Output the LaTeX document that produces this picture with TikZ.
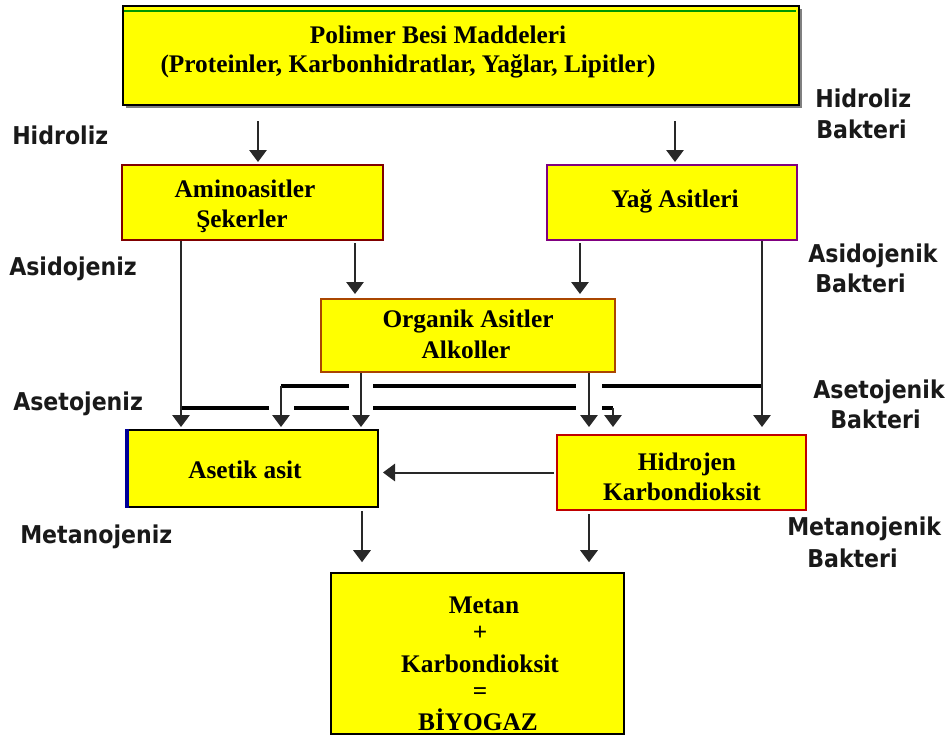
\documentclass[tikz,border=0pt]{standalone}
\usepackage{fontspec}
\usetikzlibrary{arrows.meta}
\newfontfamily\boxfont{Liberation Serif}
\newfontfamily\labfont[FakeStretch=0.9]{DejaVu Sans}
\definecolor{boxyellow}{RGB}{255,255,0}
\definecolor{aminoline}{RGB}{128,0,0}
\definecolor{yagline}{RGB}{128,0,128}
\definecolor{orgline}{RGB}{170,70,0}
\definecolor{hidline}{RGB}{192,0,0}
\definecolor{asetblue}{RGB}{0,0,150}
\definecolor{topgreen}{RGB}{0,150,0}
\definecolor{arrgray}{RGB}{40,40,40}
\begin{document}
\begin{tikzpicture}[x=0.75pt,y=-0.75pt,
  box/.style={draw, fill=boxyellow, inner sep=0pt, line width=1.5pt},
  btext/.style={font={\boxfont\bfseries\fontsize{19pt}{21pt}\selectfont}, anchor=base, inner sep=0pt, text=black},
  ltext/.style={font={\labfont\bfseries\fontsize{18.4pt}{20pt}\selectfont}, anchor=base west, inner sep=0pt, text=black!90},
  arr/.style={draw=arrgray, line width=1.5pt, -{Triangle[width=13pt,length=9pt]}},
  hline/.style={draw=black, line width=2.4pt},
  gap/.style={draw=white, line width=#1}]
\useasboundingbox (0,0) rectangle (947,736);
\fill[white] (0,0) rectangle (947,736);

% boxes
\fill[black!50] (126,9) rectangle (802,108);
\node[box, minimum width=507pt, minimum height=74.25pt] (topbox) at (461,55.5) {};
\draw[topgreen, line width=1.5pt] ([xshift=1.5pt,yshift=-4.5pt]topbox.north west) -- ([xshift=-3pt,yshift=-4.5pt]topbox.north east);
\node[box, draw=aminoline, minimum width=195.75pt, minimum height=56.25pt] (amino) at (252.5,202.5) {};
\node[box, draw=yagline, minimum width=187.5pt, minimum height=56.25pt] (yag) at (672,202.5) {};
\node[box, draw=orgline, minimum width=220.5pt, minimum height=54.75pt] (organik) at (468,335.5) {};
\node[box, minimum width=187.5pt, minimum height=57.75pt] (asetik) at (253,468.5) {};
\draw[asetblue, line width=3pt] (asetik.north west) -- (asetik.south west);
\node[box, draw=hidline, minimum width=186.75pt, minimum height=56.25pt] (hidrojen) at (681.5,472.5) {};
\node[box, line width=1.2pt, minimum width=219.75pt, minimum height=120.75pt] (metan) at (477.5,653.5) {};

% box texts
\node[btext] (t1) at (438,43) {Polimer Besi Maddeleri};
\node[btext] (t2) at (408,72) {(Proteinler, Karbonhidratlar, Yağlar, Lipitler)};
\node[btext] (t3) at (245,197) {Aminoasitler};
\node[btext] (t4) at (242,227) {Şekerler};
\node[btext] (t5) at (675,207) {Yağ Asitleri};
\node[btext] (t6) at (468,327) {Organik Asitler};
\node[btext] (t7) at (466,358) {Alkoller};
\node[btext] (t8) at (245,478) {Asetik asit};
\node[btext] (t9) at (687,470) {Hidrojen};
\node[btext] (t10) at (682,500) {Karbondioksit};
\node[btext] (t11) at (484,613) {Metan};
\node[btext] (t12) at (480,640) {+};
\node[btext] (t13) at (480,672) {Karbondioksit};
\node[btext] (t14) at (480,699) {=};
\node[btext] (t15) at (478,730) {BİYOGAZ};

% stage labels
\node[ltext] (l1) at (12,144) {Hidroliz};
\node[ltext] (l2) at (9,275) {Asidojeniz};
\node[ltext] (l3) at (13,410) {Asetojeniz};
\node[ltext] (l4) at (20,543) {Metanojeniz};
\node[ltext] (r1) at (815,107) {Hidroliz};
\node[ltext] (r1b) at (816,138) {Bakteri};
\node[ltext] (r2) at (808,262) {Asidojenik};
\node[ltext] (r2b) at (815,292) {Bakteri};
\node[ltext] (r3) at (813,398) {Asetojenik};
\node[ltext] (r3b) at (830,428) {Bakteri};
\node[ltext] (r4) at (787,535) {Metanojenik};
\node[ltext] (r4b) at (807,567) {Bakteri};

% x positions and junctions
\coordinate (xa) at (258,0);
\coordinate (xb) at (675,0);
\coordinate (xc) at (355,0);
\coordinate (xd) at (580,0);
\coordinate (xe) at (181,0);
\coordinate (xf) at (762,0);
\coordinate (xg) at (361,0);
\coordinate (xh) at (589,0);
\coordinate (xi) at (362,0);
\coordinate (xj) at (589,0);
\coordinate (j1) at (281,386);
\coordinate (j2) at (181,408);
\coordinate (j3) at (613,408);
\coordinate (j4) at (762,386);

% connectors
\draw[arr, shorten <=11.25pt, shorten >=1.5pt] (topbox.south -| xa) -- (amino.north -| xa);
\draw[arr, shorten <=11.25pt, shorten >=1.5pt] (topbox.south -| xb) -- (yag.north -| xb);
\draw[arr, shorten <=1.5pt, shorten >=3pt] (amino.south -| xc) -- (organik.north -| xc);
\draw[arr, shorten <=1.5pt, shorten >=3pt] (yag.south -| xd) -- (organik.north -| xd);

% crossing horizontal lines
\draw[hline] (j1) -- (j4);
\draw[hline] (j2) -- (j3);
\draw[gap=18pt] ([yshift=-5.25pt]organik.south -| xg) -- ([yshift=9pt]asetik.north -| xg);
\draw[gap=20pt] ([yshift=-5.25pt]organik.south -| xh) -- ([yshift=9pt]asetik.north -| xh);
\draw[gap=18.75pt] ([yshift=-6.75pt]j1) -- ([yshift=7.5pt]asetik.north -| j1);

\draw[arr, shorten >=1.5pt] (amino.south -| xe) -- (asetik.north -| xe);
\draw[arr, shorten >=5.25pt] (yag.south -| xf) -- (hidrojen.north -| xf);
\draw[arr, shorten >=1.5pt] (organik.south -| xg) -- (asetik.north -| xg);
\draw[arr, shorten >=5.25pt] (organik.south -| xh) -- (hidrojen.north -| xh);
\draw[arr, shorten >=1.5pt] (j1) -- (asetik.north -| j1);
\draw[arr, shorten >=5.25pt] (j3) -- (hidrojen.north -| j3);

\draw[arr, shorten <=1.5pt, shorten >=3pt] (hidrojen.west) -- (asetik.east |- hidrojen.west);
\draw[arr, shorten <=2.25pt, shorten >=7.5pt] (asetik.south -| xi) -- (metan.north -| xi);
\draw[arr, shorten <=2.25pt, shorten >=7.5pt] (hidrojen.south -| xj) -- (metan.north -| xj);
\end{tikzpicture}
\end{document}
